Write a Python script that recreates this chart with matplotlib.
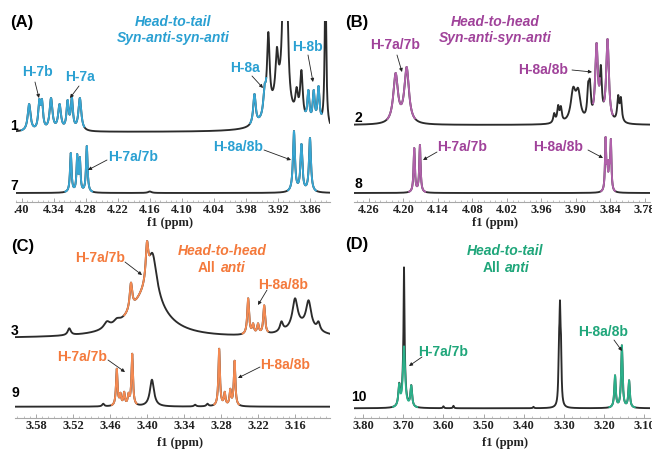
import numpy as np
import matplotlib
matplotlib.use("Agg")
import matplotlib.pyplot as plt
from matplotlib.ticker import FixedLocator, MultipleLocator
from matplotlib.patches import FancyArrowPatch

W, H = 652, 450
SANS = ['Liberation Sans', 'DejaVu Sans']
SERIF = ['Liberation Serif', 'DejaVu Serif']
plt.rcParams['font.family'] = SANS

# ---------------- data (chemical shifts in ppm, heights in plot units) ----------------
# Panel A
A_ticks = [4.40, 4.34, 4.28, 4.22, 4.16, 4.10, 4.04, 3.98, 3.92, 3.86]
A_ticklabels = ['.40', '4.34', '4.28', '4.22', '4.16', '4.10', '4.04', '3.98', '3.92', '3.86']
A1_pos = [4.386, 4.367, 4.362, 4.345, 4.329, 4.314, 4.306, 4.291, 3.990, 3.964, 3.945,
          3.938, 3.922, 3.910, 3.903, 3.885, 3.876, 3.863, 3.853, 3.844, 3.831]
A1_hgt = [28, 33, 33, 34, 28, 32, 35, 34, 3, 38, 48,
          100, 85, 150, 140, 45, 62, 42, 42, 46, 150]
A1_wid = [0.0032, 0.0024, 0.0024, 0.0032, 0.0032, 0.0024, 0.0024, 0.0032, 0.002, 0.0028, 0.0028,
          0.003, 0.003, 0.003, 0.003, 0.003, 0.003, 0.0024, 0.0024, 0.0024, 0.0018]
A1_bg = [(3.915, 35, 0.02)]
A1_col = [(4.400, 4.283), (3.972, 3.942), (3.869, 3.838)]
A7_pos = [4.308, 4.296, 4.291, 4.278, 4.160, 3.890, 3.876, 3.860]
A7_hgt = [40, 39, 36, 47, 1.5, 62, 49, 55]
A7_wid = [0.0017, 0.0015, 0.0015, 0.0017, 0.004, 0.0022, 0.0022, 0.0022]
A7_col = [(4.318, 4.268), (3.901, 3.849)]

# Panel B
B_ticks = [4.26, 4.20, 4.14, 4.08, 4.02, 3.96, 3.90, 3.84, 3.78]
B_ticklabels = ['4.26', '4.20', '4.14', '4.08', '4.02', '3.96', '3.90', '3.84', '3.78']
B2_pos = [4.2136, 4.1944, 3.9377, 3.9308, 3.9261, 3.9047, 3.8960, 3.8786, 3.8757,
          3.8640, 3.8565, 3.8449, 3.8264, 3.8217]
B2_hgt = [52, 58, 12, 20, 19, 38, 37, 43, 46, 82, 60, 86, 30, 28]
B2_wid = [0.0048, 0.0048, 0.002, 0.002, 0.002, 0.005, 0.005, 0.002, 0.002,
          0.0028, 0.002, 0.0028, 0.002, 0.002]
B2_col = [(4.228, 4.180), (3.870, 3.858), (3.851, 3.836)]
B8_pos = [4.1812, 4.1713, 3.8483, 3.8453, 3.8420, 3.8391]
B8_hgt = [45, 48, 56, 33, 33, 54]
B8_wid = [0.0014, 0.0014, 0.0012, 0.0012, 0.0012, 0.0012]
B8_col = [(4.190, 4.162), (3.856, 3.832)]

# Panel C
C_ticks = [3.58, 3.52, 3.46, 3.40, 3.34, 3.28, 3.22, 3.16]
C_ticklabels = ['3.58', '3.52', '3.46', '3.40', '3.34', '3.28', '3.22', '3.16']
C3_pos = [3.526, 3.465, 3.449, 3.433, 3.426, 3.400, 3.391, 3.274, 3.236, 3.228, 3.220,
          3.210, 3.182, 3.160, 3.138, 3.122]
C3_hgt = [10, 17, 20, 25, 55, 97, 85, 2, 40, 15, 15, 33, 17, 40, 38, 17]
C3_wid = [0.003, 0.006, 0.006, 0.005, 0.0025, 0.0025, 0.0085, 0.002, 0.0018, 0.0018, 0.0018,
          0.0018, 0.003, 0.005, 0.005, 0.003]
C3_bg = [(3.400, 40, 0.035), (3.150, 10, 0.03)]
C3_col = [(3.437, 3.396), (3.245, 3.204)]
C9_pos = [3.471, 3.449, 3.443, 3.437, 3.430, 3.424, 3.392, 3.322, 3.302, 3.283, 3.274,
          3.265, 3.258]
C9_hgt = [3, 38, 14, 15, 14, 53, 27, 2, 3, 58, 15, 18, 46]
C9_wid = [0.002, 0.0015, 0.0015, 0.0015, 0.0015, 0.0015, 0.004, 0.002, 0.002, 0.0015, 0.0015,
          0.0015, 0.0015]
C9_col = [(3.457, 3.417), (3.291, 3.251)]

# Panel D
D_ticks = [3.80, 3.70, 3.60, 3.50, 3.40, 3.30, 3.20, 3.10]
D_ticklabels = ['3.80', '3.70', '3.60', '3.50', '3.40', '3.30', '3.20', '3.10']
D10_pos = [3.710, 3.698, 3.680, 3.600, 3.575, 3.376, 3.3125, 3.310, 3.3075, 3.173, 3.156, 3.138]
D10_hgt = [25, 62, 23, 2, 2.5, 1.5, 75, 108, 75, 33, 63, 28]
D10_wid = [0.0025, 0.0033, 0.0025, 0.0015, 0.0015, 0.0015, 0.0016, 0.0016, 0.0016,
           0.0022, 0.0022, 0.0022]
D10_spike = (3.698, 79, 0.001)
D10_col = [(3.725, 3.665), (3.187, 3.124)]

# ---------------- styling ----------------
BLACK = '#2b2b2b'
CYAN, CYAN_T = '#37a6d3', '#2aa0d2'
MAG, MAG_T = '#b061aa', '#a0429a'
ORG, ORG_T = '#f48a52', '#f47a3c'
GRN, GRN_T = '#2bb08a', '#1fa67a'
LW = 1.35

fig = plt.figure(figsize=(W / 100, H / 100), dpi=100)


def fx(x):
    return x / W


def fy(y):
    return 1 - y / H


def lor(x, x0, w):
    return 1.0 / (1.0 + ((x - x0) / w) ** 2)


def spectrum(x, pos, hgt, wid, bg=()):
    pos = np.asarray(pos, float)
    hgt = np.asarray(hgt, float)
    wid = np.asarray(wid, float)
    base = np.zeros_like(x)
    base_at = np.zeros_like(pos)
    for p, h, w in bg:
        base += h * lor(x, p, w)
        base_at += h * lor(pos, p, w)
    M = lor(pos[:, None], pos[None, :], wid[None, :])
    amp = np.clip(np.linalg.solve(M, hgt - base_at), 0, None)
    return base + (amp[None, :] * lor(x[:, None], pos[None, :], wid[None, :])).sum(axis=1)


def make_axes(x0, x1, yt, yb, xlim, ticks, labels, minor):
    ax = fig.add_axes([fx(x0), fy(yb), (x1 - x0) / W, (yb - yt) / H])
    ax.set_facecolor('none')
    ax.set_xlim(*xlim)
    ax.set_ylim(0, yb - yt)
    for s in ('top', 'left', 'right'):
        ax.spines[s].set_visible(False)
    ax.spines['bottom'].set_color('#a8a8a8')
    ax.spines['bottom'].set_linewidth(0.8)
    ax.xaxis.set_major_locator(FixedLocator(ticks))
    ax.set_xticklabels(labels, fontfamily=SERIF, fontweight='bold', fontsize=9, color='#222222')
    ax.xaxis.set_minor_locator(MultipleLocator(minor))
    ax.tick_params(axis='x', which='major', direction='in', length=3, width=0.6,
                   color='#999999', pad=1.5)
    ax.tick_params(axis='x', which='minor', direction='in', length=1.6, width=0.5,
                   color='#aaaaaa')
    ax.tick_params(axis='y', left=False, labelleft=False)
    return ax


def draw(ax, x, y, off, ranges, color, ycol=None):
    ax.plot(x, y + off, color=BLACK, lw=LW, solid_joinstyle='round')
    yc = y if ycol is None else ycol
    mask = np.zeros_like(x, dtype=bool)
    for a, b in ranges:
        mask |= (x <= max(a, b)) & (x >= min(a, b))
    ax.plot(x, np.where(mask, yc + off, np.nan), color=color, lw=LW, solid_joinstyle='round')


def label(s, x, y, color='black', size=10, style='normal', weight='bold', ha='center'):
    fig.text(fx(x), fy(y), s, color=color, fontsize=size, fontstyle=style, fontweight=weight,
             ha=ha, va='center', family=SANS)


def arrow(x0, y0, x1, y1):
    a = FancyArrowPatch((fx(x0), fy(y0)), (fx(x1), fy(y1)), transform=fig.transFigure,
                        arrowstyle='-|>', mutation_scale=5, lw=0.6, color='#222222',
                        shrinkA=0, shrinkB=0)
    fig.add_artist(a)


# ---------------- Panel A ----------------
axA = make_axes(16, 330, 21, 202, (4.4106, 3.8225), A_ticks, A_ticklabels, 0.01)
xA = np.linspace(4.4106, 3.8225, 6000)
draw(axA, xA, spectrum(xA, A1_pos, A1_hgt, A1_wid, A1_bg), 70, A1_col, CYAN)
draw(axA, xA, spectrum(xA, A7_pos, A7_hgt, A7_wid), 9, A7_col, CYAN)

# ---------------- Panel B ----------------
axB = make_axes(354, 650, 20, 202, (4.286, 3.771), B_ticks, B_ticklabels, 0.01)
xB = np.linspace(4.286, 3.771, 6000)
draw(axB, xB, spectrum(xB, B2_pos, B2_hgt, B2_wid), 77, B2_col, MAG)
draw(axB, xB, spectrum(xB, B8_pos, B8_hgt, B8_wid), 9, B8_col, MAG)

# ---------------- Panel C ----------------
axC = make_axes(15, 330, 235, 418, (3.614, 3.1033), C_ticks, C_ticklabels, 0.01)
xC = np.linspace(3.614, 3.1033, 6000)
draw(axC, xC, spectrum(xC, C3_pos, C3_hgt, C3_wid, C3_bg), 79.7, C3_col, ORG)
draw(axC, xC, spectrum(xC, C9_pos, C9_hgt, C9_wid), 11.3, C9_col, ORG)

# ---------------- Panel D ----------------
axD = make_axes(354, 650, 235, 418, (3.8224, 3.086), D_ticks, D_ticklabels, 0.02)
xD = np.linspace(3.8224, 3.086, 8000)
yD_green = spectrum(xD, D10_pos, D10_hgt, D10_wid)
yD = yD_green + D10_spike[1] * lor(xD, D10_spike[0], D10_spike[2])
draw(axD, xD, yD, 9.7, D10_col, GRN, ycol=yD_green)

# ---------------- texts ----------------
for s, x, y in [('(A)', 22, 23), ('(B)', 357, 23), ('(C)', 23, 247), ('(D)', 357, 245)]:
    label(s, x, y, size=12)
for s, x, y in [('1', 14, 126), ('7', 14, 186), ('2', 358, 118), ('8', 358, 184),
                ('3', 15, 331), ('9', 15, 393), ('10', 359, 397)]:
    label(s, x, y, size=10)
for s, x, y in [('f1 (ppm)', 170, 223), ('f1 (ppm)', 495, 223),
                ('f1 (ppm)', 180, 443), ('f1 (ppm)', 505, 443)]:
    fig.text(fx(x), fy(y), s, fontsize=9, fontweight='bold', family=SERIF, color='#222222',
             ha='center', va='center')

# titles
label('Head-to-tail', 173, 22, CYAN_T, 10, 'italic')
label('Syn-anti-syn-anti', 173, 38, CYAN_T, 10, 'italic')
label('Head-to-head', 495, 22, MAG_T, 10, 'italic')
label('Syn-anti-syn-anti', 495, 38, MAG_T, 10, 'italic')
label('Head-to-head', 222, 251, ORG_T, 10, 'italic')
label('All', 207, 268, ORG_T, 10)
label('anti', 233, 268, ORG_T, 10, 'italic')
label('Head-to-tail', 505, 251, GRN_T, 10, 'italic')
label('All', 492, 268, GRN_T, 10)
label('anti', 517, 268, GRN_T, 10, 'italic')

# peak annotations: (text, colour, text x, text y, arrow start, arrow end)
annotations = [
    ('H-7b', CYAN_T, 37, 72, (35, 82), (39, 98)),
    ('H-7a', CYAN_T, 80, 77, (79, 86), (70, 98)),
    ('H-8a', CYAN_T, 245, 68, (252, 76), (263, 88)),
    ('H-8b', CYAN_T, 307, 47, (308, 55), (313, 82)),
    ('H-7a/7b', CYAN_T, 133, 157, (107, 160), (88, 170)),
    ('H-8a/8b', CYAN_T, 238, 147, (264, 150), (291, 160)),
    ('H-7a/7b', MAG_T, 395, 45, (397, 55), (402, 72)),
    ('H-8a/8b', MAG_T, 543, 70, (572, 70), (592, 72)),
    ('H-7a/7b', MAG_T, 462, 147, (437, 152), (423, 160)),
    ('H-8a/8b', MAG_T, 558, 147, (588, 150), (603, 158)),
    ('H-7a/7b', ORG_T, 100, 258, (125, 262), (142, 275)),
    ('H-8a/8b', ORG_T, 283, 285, (267, 290), (258, 305)),
    ('H-7a/7b', ORG_T, 82, 357, (108, 360), (125, 372)),
    ('H-8a/8b', ORG_T, 285, 365, (260, 367), (238, 378)),
    ('H-7a/7b', GRN_T, 443, 352, (422, 357), (409, 366)),
    ('H-8a/8b', GRN_T, 603, 332, (614, 340), (622, 351)),
]
for s, c, x, y, a0, a1 in annotations:
    label(s, x, y, c, 10)
    arrow(a0[0], a0[1], a1[0], a1[1])

fig.savefig('out.png', dpi=100, facecolor='white')
